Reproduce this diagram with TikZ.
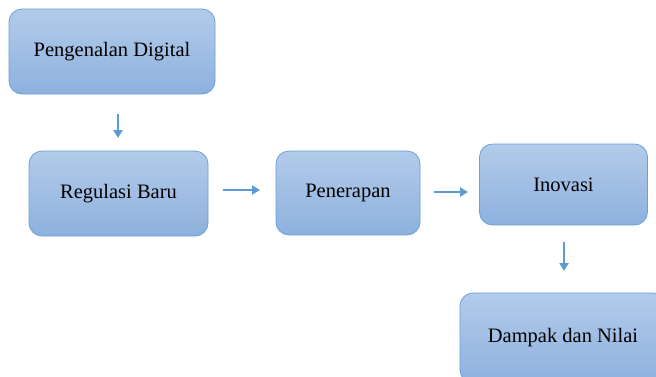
\documentclass[tikz,border=0pt]{standalone}
\usepackage{fontspec}
\setmainfont{Liberation Serif}
\usetikzlibrary{arrows.meta}
\definecolor{boxtop}{HTML}{B3CBEA}
\definecolor{boxbot}{HTML}{8DB1DE}
\definecolor{boxline}{HTML}{6A9FD8}
\definecolor{arrcol}{HTML}{5B9BD5}
\tikzset{
  box/.style={rectangle, rounded corners=13pt, draw=boxline, line width=0.8pt,
    top color=boxtop, bottom color=boxbot, font=\fontsize{20.5}{24}\selectfont,
    inner sep=0pt},
  arr/.style={draw=arrcol, line width=2.4pt, -{Triangle[length=8pt,width=9pt]}}
}
\begin{document}
\begin{tikzpicture}[x=1pt,y=-1pt]
\useasboundingbox (0,0) rectangle (656,376);
\clip (0,0) rectangle (656,376);
\node[box, minimum width=206pt, minimum height=85pt] (b1) at (112,51.5) {Pengenalan Digital};
\node[box, minimum width=179pt, minimum height=85pt] (b2) at (118.5,193.5) {Regulasi Baru};
\node[box, minimum width=144pt, minimum height=84pt] (b3) at (348,193) {Penerapan};
\node[box, minimum width=168pt, minimum height=81pt] (b4) at (563.5,184.5) {Inovasi};
\node[box, minimum width=206pt, minimum height=90pt] (b5) at (563,338) {Dampak dan Nilai};
\coordinate (a1s) at (118,114); \coordinate (a1e) at (118,138);
\coordinate (a2s) at (223,190); \coordinate (a2e) at (260,190);
\coordinate (a3s) at (434,192); \coordinate (a3e) at (468,192);
\coordinate (a4s) at (564,242); \coordinate (a4e) at (564,271);
\draw[arr] (a1s) -- (a1e);
\draw[arr] (a2s) -- (a2e);
\draw[arr] (a3s) -- (a3e);
\draw[arr] (a4s) -- (a4e);
\end{tikzpicture}
\end{document}
